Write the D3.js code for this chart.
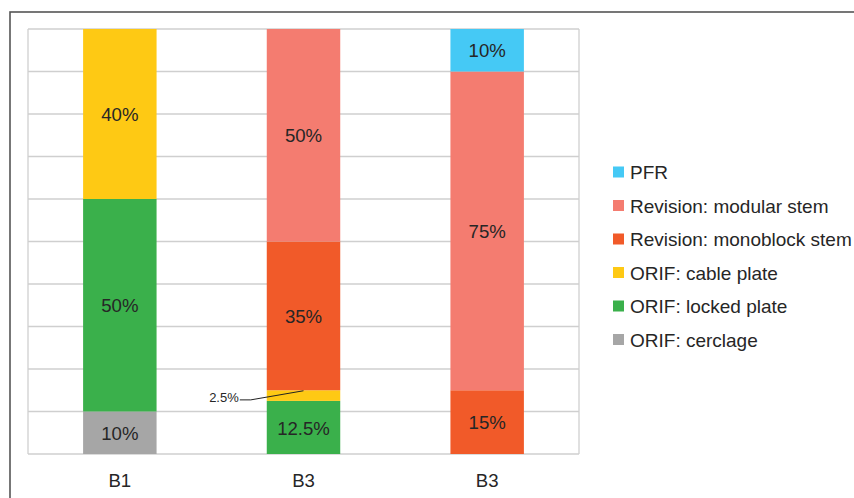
<!DOCTYPE html>
<html>
<head>
<meta charset="utf-8">
<script src="https://cdn.jsdelivr.net/npm/d3@7"></script>
<style>
  body { margin: 0; background: #fff; }
  svg { display: block; font-family: "Liberation Sans", Arial, sans-serif; }
</style>
</head>
<body>
<svg id="chart" width="854" height="498"></svg>
<script>
// categories (two groups share the label "B3")
const categories = ["B1", "B3", "B3"];
// series, listed bottom to top of the stack
const seriesNames = ["ORIF: cerclage", "ORIF: locked plate", "ORIF: cable plate",
  "Revision: monoblock stem", "Revision: modular stem", "PFR"];
const cerclage   = [10, 0, 0];
const locked     = [50, 12.5, 0];
const cable      = [40, 2.5, 0];
const monoblock  = [0, 35, 15];
const modular    = [0, 50, 75];
const pfr        = [0, 0, 10];
const colors = ["#a6a6a6", "#3ab04b", "#fec914", "#f15a29", "#f47c70", "#45c9f5"];
const yTicks = [0, 10, 20, 30, 40, 50, 60, 70, 80, 90, 100];

const seriesValues = [cerclage, locked, cable, monoblock, modular, pfr];
const table = categories.map((c, i) => {
  const row = { idx: i };
  seriesNames.forEach((s, k) => row[s] = seriesValues[k][i]);
  return row;
});

const svg = d3.select("#chart");
const plot = { left: 28, right: 579, top: 29, bottom: 454 };

// outer frame
svg.append("rect")
  .attr("x", 10).attr("y", 12)
  .attr("width", 900).attr("height", 600)
  .attr("fill", "none")
  .attr("stroke", "#555")
  .attr("stroke-width", 1.6);

const x = d3.scaleBand()
  .domain(categories.map((c, i) => i))
  .range([plot.left, plot.right]);
const y = d3.scaleLinear()
  .domain([0, 100])
  .range([plot.bottom, plot.top]);
const color = d3.scaleOrdinal().domain(seriesNames).range(colors);
const barW = x.bandwidth() * 0.4;
const barX = i => x(i) + (x.bandwidth() - barW) / 2;

// gridlines
svg.append("g")
  .selectAll("line")
  .data(yTicks)
  .join("line")
  .attr("x1", plot.left).attr("x2", plot.right)
  .attr("y1", d => y(d)).attr("y2", d => y(d))
  .attr("stroke", "#cfcfcf")
  .attr("stroke-width", 1.3);
svg.append("g")
  .selectAll("line")
  .data([plot.left, plot.right])
  .join("line")
  .attr("x1", d => d).attr("x2", d => d)
  .attr("y1", plot.top).attr("y2", plot.bottom)
  .attr("stroke", "#cfcfcf")
  .attr("stroke-width", 1.3);

// stacked bars
const stacked = d3.stack().keys(seriesNames)(table);
const layers = svg.append("g")
  .selectAll("g")
  .data(stacked)
  .join("g")
  .attr("fill", d => color(d.key));
layers.selectAll("rect")
  .data(d => d.filter(p => p[1] - p[0] > 0))
  .join("rect")
  .attr("x", d => barX(d.data.idx))
  .attr("width", barW)
  .attr("y", d => y(d[1]))
  .attr("height", d => y(d[0]) - y(d[1]));

// value labels
const segs = [];
stacked.forEach(layer => layer.forEach(p => {
  const v = p[1] - p[0];
  if (v > 0) segs.push({ v, y0: p[0], y1: p[1], idx: p.data.idx });
}));
const fmt = v => v + "%";

svg.append("g")
  .selectAll("text")
  .data(segs.filter(d => d.v >= 5))
  .join("text")
  .attr("x", d => barX(d.idx) + barW / 2)
  .attr("y", d => y((d.y0 + d.y1) / 2))
  .attr("dy", "0.38em")
  .attr("text-anchor", "middle")
  .attr("font-size", 18.6)
  .attr("fill", "#262626")
  .text(d => fmt(d.v));

// small segment: label outside with leader line
segs.filter(d => d.v < 5).forEach(d => {
  const bx = barX(d.idx);
  const tx = bx - 28;
  const ty = y(d.y0) - 1;
  svg.append("path")
    .attr("d", `M${tx + 1},${ty} L${tx + 12},${ty} L${bx + barW / 2},${y(d.y1) + 0.5}`)
    .attr("fill", "none")
    .attr("stroke", "#222")
    .attr("stroke-width", 1);
  svg.append("text")
    .attr("x", tx)
    .attr("y", ty + 2)
    .attr("text-anchor", "end")
    .attr("font-size", 13)
    .attr("fill", "#262626")
    .text(fmt(d.v));
});

// x axis labels
svg.append("g")
  .selectAll("text")
  .data(categories)
  .join("text")
  .attr("x", (d, i) => x(i) + x.bandwidth() / 2)
  .attr("y", 487)
  .attr("text-anchor", "middle")
  .attr("font-size", 18.6)
  .attr("fill", "#262626")
  .text(d => d);

// legend, top to bottom
const legendItems = seriesNames.slice().reverse();
const legend = svg.append("g")
  .selectAll("g")
  .data(legendItems)
  .join("g")
  .attr("transform", (d, i) => `translate(613,${172 + i * 33.5})`);
legend.append("rect")
  .attr("x", 0).attr("y", -5.5)
  .attr("width", 11).attr("height", 11)
  .attr("fill", d => color(d));
legend.append("text")
  .attr("x", 17)
  .attr("dy", "0.38em")
  .attr("font-size", 19)
  .attr("fill", "#262626")
  .text(d => d);
</script>
</body>
</html>
